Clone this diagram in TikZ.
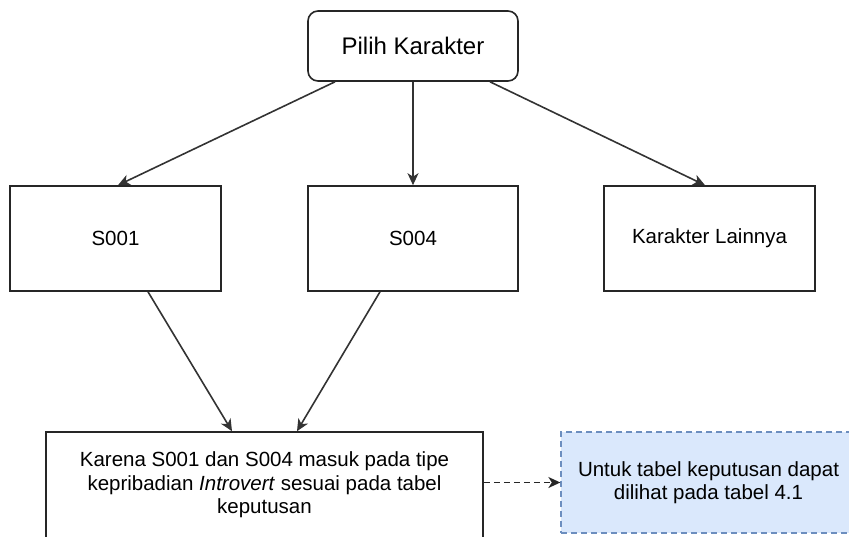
\documentclass[tikz,border=0pt]{standalone}
\usepackage{fontspec}
\setmainfont{Liberation Sans}
\usetikzlibrary{arrows.meta}
\definecolor{infofill}{HTML}{DAE8FC}
\definecolor{infoline}{HTML}{6C8EBF}
\begin{document}
\begin{tikzpicture}[x=1pt,y=-1pt,
  box/.style={draw=black!85, line width=1.6pt, fill=white, inner sep=0pt, align=center,
    font=\fontsize{20.5}{23.6}\selectfont},
  arr/.style={draw=black!80, line width=1.6pt, -{Stealth[length=12pt,width=11pt,inset=3.5pt]}},
  darr/.style={draw=black!85, line width=1.5pt, dash pattern=on 6pt off 4pt,
    -{Stealth[length=12pt,width=11pt,inset=3.5pt]}}]
\useasboundingbox (0,0) rectangle (849,536);
\node[box, rounded corners=10pt, minimum width=210pt, minimum height=70pt,
  font=\fontsize{24}{28}\selectfont] (pilih) at (413,46) {Pilih Karakter};
\node[box, minimum width=211pt, minimum height=105pt] (s1) at (115.5,238.5) {S001};
\node[box, minimum width=210pt, minimum height=105pt] (s4) at (413,238.5) {S004};
\node[box, minimum width=211pt, minimum height=105pt] (kl) at (709.5,238.5) {Karakter Lainnya};
\node[box, minimum width=437pt, minimum height=106pt] (kar) at (264.5,485)
  {Karena S001 dan S004 masuk pada tipe\\kepribadian \textit{Introvert} sesuai pada tabel\\keputusan};
\node[box, draw=infoline, fill=infofill, dash pattern=on 6pt off 4pt, line width=1.3pt,
  minimum width=295pt, minimum height=101pt] (info) at (708.5,482.5)
  {Untuk tabel keputusan dapat\\dilihat pada tabel 4.1};
\draw[arr] ([xshift=-78pt]pilih.south) -- ([xshift=2.5pt]s1.north);
\draw[arr] (pilih.south) -- (s4.north);
\draw[arr] ([xshift=77pt]pilih.south) -- ([xshift=-4.5pt]kl.north);
\draw[arr] ([xshift=32.5pt]s1.south) -- ([xshift=-32.5pt]kar.north);
\draw[arr] ([xshift=-33pt]s4.south) -- ([xshift=32.5pt]kar.north);
\draw[darr] (kar.east |- info.west) -- (info.west);
\end{tikzpicture}
\end{document}
